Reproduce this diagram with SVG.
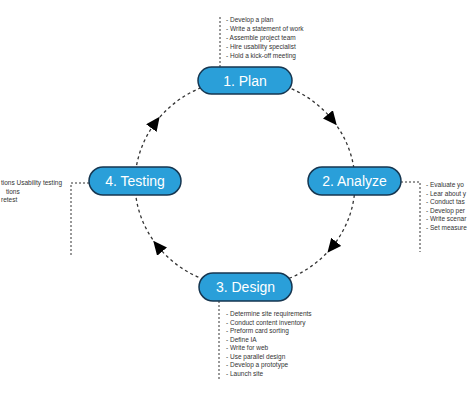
<svg xmlns="http://www.w3.org/2000/svg" width="470" height="400" viewBox="0 0 470 400">
<style>
.node rect{fill:#2a9fd9;stroke:#163650;stroke-width:1.5}
.node text{font-family:"Liberation Sans",Arial,sans-serif;font-size:14px;fill:#fff;text-anchor:middle}
.cycle{fill:none;stroke:#333;stroke-width:1.3;stroke-dasharray:3 3;marker-mid:url(#arrow)}
.lead{fill:none;stroke:#333;stroke-width:1;stroke-dasharray:2 2}
.note{font-family:"Liberation Sans",Arial,sans-serif;font-size:6.5px;fill:#333}
</style>
<defs>
<marker id="arrow" markerUnits="userSpaceOnUse" markerWidth="14" markerHeight="13" refX="6" refY="6.5" orient="auto">
<path d="M0,0 L14,6.5 L0,13 z" fill="#000"/>
</marker>
</defs>
<rect width="470" height="400" fill="#fff"/>
<g id="connectors">
<path class="cycle" d="M245,79 A110,104 0 0 1 331.7,119 A110,104 0 0 1 355,183"/>
<path class="cycle" d="M355,183 A110,104 0 0 1 332.5,246.5 A110,104 0 0 1 245,287"/>
<path class="cycle" d="M245,287 A110,104 0 0 1 158.3,247 A110,104 0 0 1 135,183"/>
<path class="cycle" d="M135,183 A110,104 0 0 1 154.9,123.3 A110,104 0 0 1 245,79"/>
<path class="lead" d="M220,67 V15"/>
<path class="lead" d="M401,182 H420 V252"/>
<path class="lead" d="M89,183 H71 V255"/>
<path class="lead" d="M219,301 V380"/>
</g>
<g id="note-plan" class="note">
<text x="226" y="22">- Develop a plan</text>
<text x="226" y="31">- Write a statement of work</text>
<text x="226" y="40">- Assemble project team</text>
<text x="226" y="49">- Hire usability specialist</text>
<text x="226" y="58">- Hold a kick-off meeting</text>
</g>
<g id="note-analyze" class="note">
<text x="426" y="187">- Evaluate yo</text>
<text x="426" y="195.5">- Lear about y</text>
<text x="426" y="204">- Conduct tas</text>
<text x="426" y="212.5">- Develop per</text>
<text x="426" y="221">- Write scenar</text>
<text x="426" y="229.5">- Set measure</text>
</g>
<g id="note-testing" class="note">
<text x="1" y="185">tions Usability testing</text>
<text x="6" y="193.5">tions</text>
<text x="1" y="202">retest</text>
</g>
<g id="note-design" class="note">
<text x="226" y="316">- Determine site requirements</text>
<text x="226" y="324.5">- Conduct content inventory</text>
<text x="226" y="333">- Preform card sorting</text>
<text x="226" y="341.5">- Define IA</text>
<text x="226" y="350">- Write for web</text>
<text x="226" y="358.5">- Use parallel design</text>
<text x="226" y="367">- Develop a prototype</text>
<text x="226" y="375.5">- Launch site</text>
</g>
<g id="plan" class="node">
<rect x="198" y="67" width="94" height="27" rx="13.5"/>
<text x="245" y="85.5">1. Plan</text>
</g>
<g id="analyze" class="node">
<rect x="308" y="167" width="93" height="28" rx="14"/>
<text x="354.5" y="186">2. Analyze</text>
</g>
<g id="design" class="node">
<rect x="199" y="273" width="93" height="28" rx="14"/>
<text x="245.5" y="292">3. Design</text>
</g>
<g id="testing" class="node">
<rect x="89" y="167" width="92" height="28" rx="14"/>
<text x="135" y="186">4. Testing</text>
</g>
</svg>
